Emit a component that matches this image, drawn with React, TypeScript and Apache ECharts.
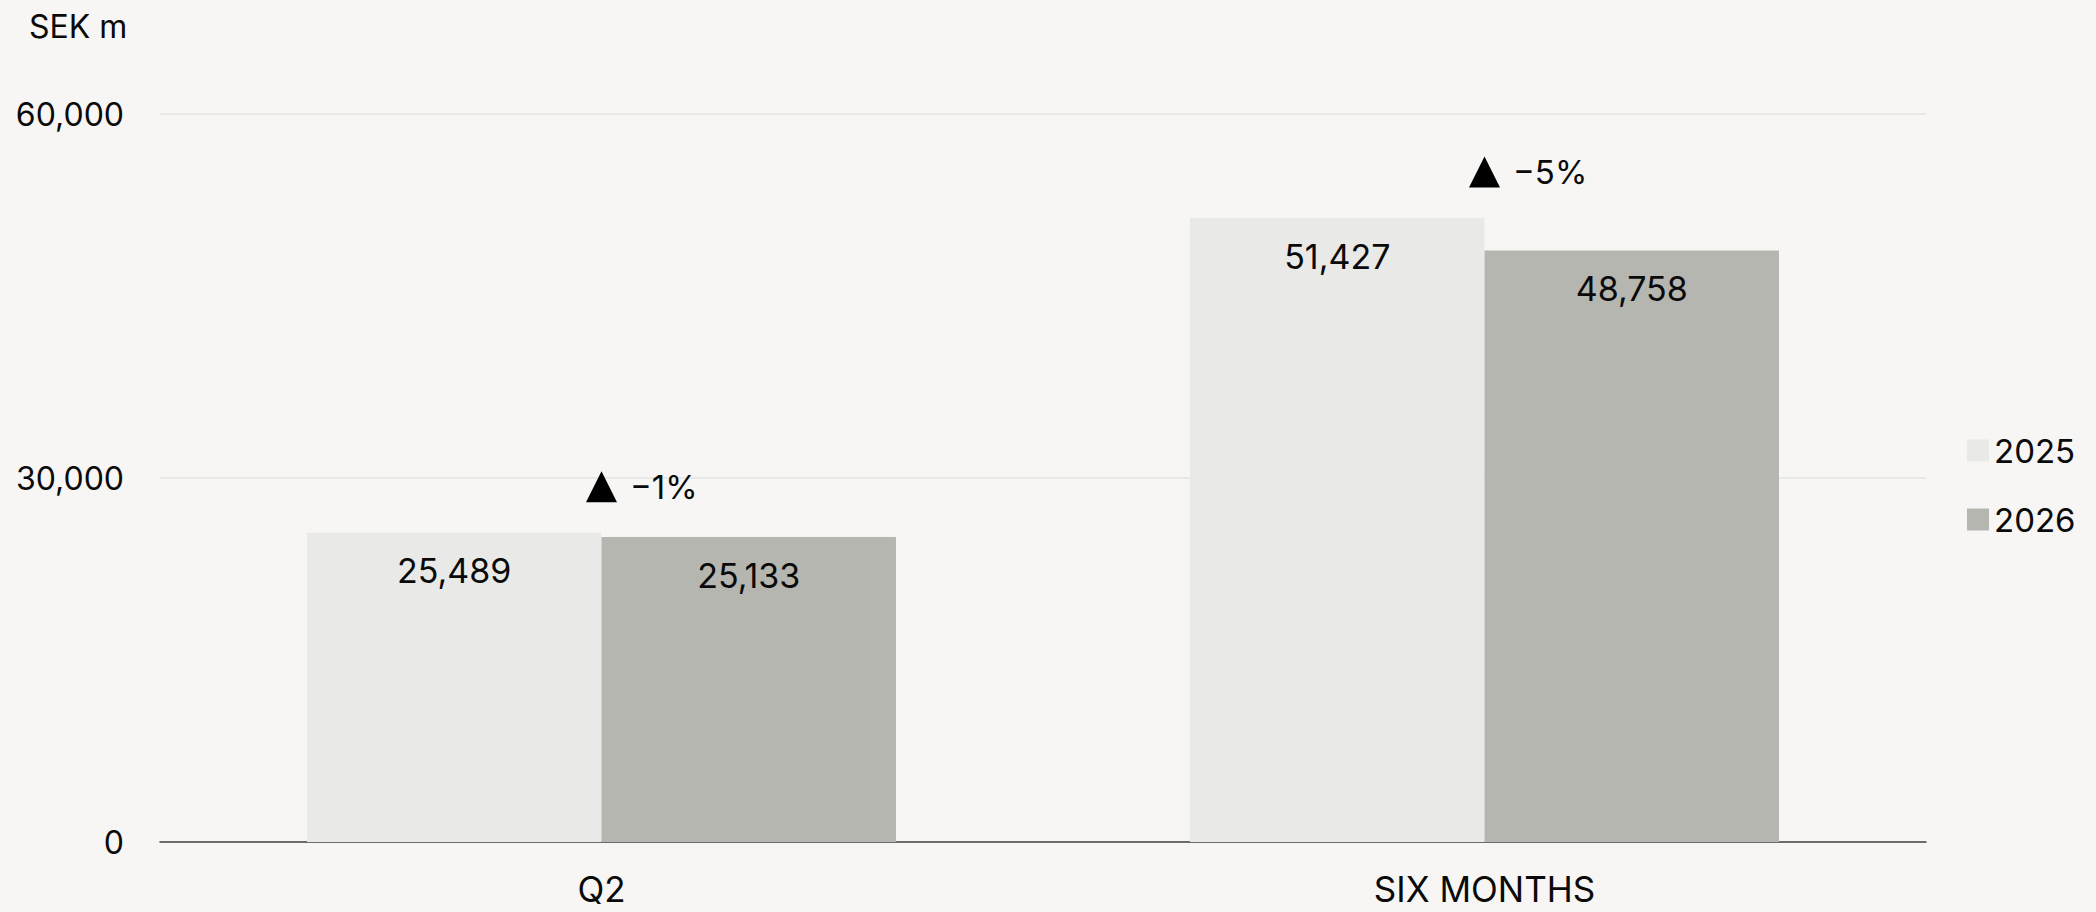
import React, { useEffect, useRef } from "react";
import * as echarts from "echarts";

const categories = ["Q2", "SIX MONTHS"];
const seriesNames = ["2025", "2026"];
const values2025 = [25489, 51427];
const values2026 = [25133, 48758];
const changeLabels = ["\u22121%", "\u22125%"];
const yTicks = { min: 0, max: 60000, interval: 30000 };
const unitLabel = "SEK m";

const FONT = "Inter";
const INK = "#0a0a0a";

export default function App() {
  const ref = useRef<HTMLDivElement>(null);

  useEffect(() => {
    if (!ref.current) return;
    const chart = echarts.init(ref.current, undefined, { renderer: "svg" });
    const fmt = (v: number) => v.toLocaleString("en-US");
    const maxVals = categories.map((_, i) => Math.max(values2025[i], values2026[i]));

    const barLabel = {
      show: true,
      position: "insideTop",
      distance: 21,
      fontFamily: FONT,
      fontSize: 34,
      color: INK,
      formatter: (p: any) => fmt(p.value),
    };

    chart.setOption({
      animation: false,
      backgroundColor: "#f7f6f4",
      textStyle: { fontFamily: FONT, color: INK },
      title: {
        text: unitLabel,
        left: 24,
        top: 5,
        textStyle: { fontFamily: FONT, fontSize: 32, fontWeight: "normal", color: INK },
      },
      legend: {
        data: seriesNames,
        orient: "vertical",
        left: 1962,
        top: 429,
        itemWidth: 22,
        itemHeight: 22,
        itemGap: 36,
        icon: "rect",
        textStyle: { fontFamily: FONT, fontSize: 33, color: INK },
        selectedMode: false,
      },
      grid: { left: 160, right: 170, top: 114, bottom: 70, containLabel: false },
      xAxis: {
        type: "category",
        data: categories,
        axisLine: { show: true, lineStyle: { color: "#444", width: 1.5 } },
        axisTick: { show: false },
        axisLabel: {
          fontFamily: FONT,
          fontSize: 35,
          lineHeight: 30,
          color: INK,
          margin: 32,
        },
      },
      yAxis: {
        type: "value",
        min: yTicks.min,
        max: yTicks.max,
        interval: yTicks.interval,
        axisLine: { show: false },
        axisTick: { show: false },
        splitLine: { lineStyle: { color: "#e3e3e0", width: 1.5 } },
        axisLabel: {
          fontFamily: FONT,
          fontSize: 32,
          color: INK,
          margin: 36,
          formatter: (v: number) => fmt(v),
        },
      },
      series: [
        {
          name: seriesNames[0],
          type: "bar",
          data: values2025,
          barGap: "0%",
          barCategoryGap: "33.3%",
          itemStyle: { color: "#e9e9e7" },
          label: barLabel,
        },
        {
          name: seriesNames[1],
          type: "bar",
          data: values2026,
          barGap: "0%",
          barCategoryGap: "33.3%",
          itemStyle: { color: "#b6b6b1" },
          label: barLabel,
        },
        {
          name: "change",
          type: "scatter",
          data: maxVals,
          symbol: "triangle",
          symbolSize: [31, 31],
          symbolOffset: [0, -46],
          itemStyle: { color: "#000", opacity: 1 },
          silent: true,
          z: 5,
          label: {
            show: true,
            position: "right",
            distance: 13,
            fontFamily: FONT,
            fontSize: 33,
            color: INK,
            formatter: (p: any) => changeLabels[p.dataIndex],
          },
        },
      ],
    });

    return () => chart.dispose();
  }, []);

  return (
    <div
      ref={ref}
      style={{ position: "fixed", left: 0, top: 0, width: 2096, height: 912 }}
    />
  );
}
